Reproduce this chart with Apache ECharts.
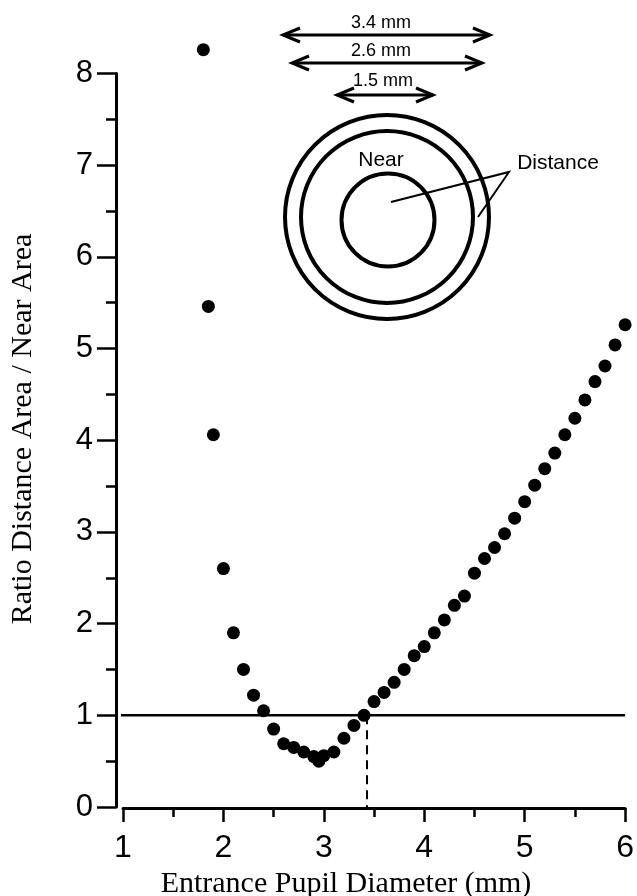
<!DOCTYPE html>
<html>
<head>
<meta charset="utf-8">
<title>Ratio Distance Area / Near Area</title>
<script src="https://cdn.jsdelivr.net/npm/echarts@6/dist/echarts.min.js"></script>
<style>
  html, body { margin: 0; padding: 0; background: #fff; }
  #chart { width: 637px; height: 896px; }
</style>
</head>
<body>
<div id="chart"></div>
<script>
// Entrance pupil diameter (mm) and the matching distance/near area ratio
const pupilDiameter = [
  1.8, 1.85, 1.9, 2.0, 2.1, 2.2, 2.3, 2.4, 2.5, 2.6, 2.7, 2.8, 2.9, 2.95, 3.0,
  3.1, 3.2, 3.3, 3.4, 3.5, 3.6, 3.7, 3.8, 3.9, 4.0, 4.1, 4.2, 4.3, 4.4, 4.5,
  4.6, 4.7, 4.8, 4.9, 5.0, 5.1, 5.2, 5.3, 5.4, 5.5, 5.6, 5.7, 5.8, 5.9, 6.0
];
const areaRatio = [
  8.26, 5.46, 4.06, 2.60, 1.90, 1.50, 1.22, 1.05, 0.85, 0.69, 0.65, 0.60, 0.55, 0.50, 0.56,
  0.60, 0.75, 0.89, 1.00, 1.15, 1.25, 1.36, 1.50, 1.65, 1.75, 1.90, 2.04, 2.20, 2.30, 2.55,
  2.71, 2.83, 2.98, 3.15, 3.33, 3.51, 3.69, 3.86, 4.06, 4.24, 4.44, 4.64, 4.81, 5.04, 5.26
];
// Axis ranges and tick spacing
const xTicks = [1, 2, 3, 4, 5, 6];
const yTicks = [0, 1, 2, 3, 4, 5, 6, 7, 8];
// Reference level (ratio = 1) and the diameter where the curve crosses it
const unityRatio = 1;
const crossingDiameter = 3.43;
const refLineStart = 0.93; // left end sits on the offset y axis line

const points = pupilDiameter.map((d, i) => [d, areaRatio[i]]);

const chart = echarts.init(document.getElementById('chart'), null, { renderer: 'canvas' });

const sans = 'Liberation Sans, Arial, Helvetica, sans-serif';
const serif = 'Liberation Serif, Times New Roman, serif';
const ink = '#000';

// Inset sketch: lens zones and their diameters
const cx = 387, cy = 217;
function arrow(x1, x2, y, head, spread) {
  return [
    { type: 'line', shape: { x1: x1, y1: y, x2: x2, y2: y }, style: { stroke: ink, lineWidth: 3 } },
    { type: 'polyline', shape: { points: [[x1 + head, y - spread], [x1, y], [x1 + head, y + spread]] }, style: { stroke: ink, lineWidth: 3, fill: null } },
    { type: 'polyline', shape: { points: [[x2 - head, y - spread], [x2, y], [x2 - head, y + spread]] }, style: { stroke: ink, lineWidth: 3, fill: null } }
  ];
}
const sketch = [].concat(
  [
    { type: 'circle', shape: { cx: cx, cy: cy, r: 102 }, style: { stroke: ink, fill: null, lineWidth: 4 } },
    { type: 'circle', shape: { cx: cx, cy: cy, r: 86 }, style: { stroke: ink, fill: null, lineWidth: 4 } },
    { type: 'circle', shape: { cx: 388, cy: 220, r: 46.5 }, style: { stroke: ink, fill: null, lineWidth: 4 } },
    { type: 'text', x: 381, y: 23, style: { text: '3.4 mm', font: '18px ' + sans, fill: ink, align: 'center', verticalAlign: 'middle' } },
    { type: 'text', x: 381, y: 51, style: { text: '2.6 mm', font: '18px ' + sans, fill: ink, align: 'center', verticalAlign: 'middle' } },
    { type: 'text', x: 383, y: 81, style: { text: '1.5 mm', font: '18px ' + sans, fill: ink, align: 'center', verticalAlign: 'middle' } },
    { type: 'text', x: 381, y: 160, style: { text: 'Near', font: '21px ' + sans, fill: ink, align: 'center', verticalAlign: 'middle' } },
    { type: 'text', x: 558, y: 163, style: { text: 'Distance', font: '21px ' + sans, fill: ink, align: 'center', verticalAlign: 'middle' } },
    { type: 'polyline', shape: { points: [[391, 202], [509, 172], [478, 217]] }, style: { stroke: ink, lineWidth: 2, fill: null } }
  ],
  arrow(283, 490, 35, 17, 7),
  arrow(292, 482, 63, 17, 7),
  arrow(337, 433, 95, 17, 7)
);

const option = {
  backgroundColor: '#fff',
  animation: false,
  grid: { left: 123, right: 8, top: 73.5, bottom: 89, containLabel: false },
  xAxis: {
    type: 'value',
    min: xTicks[0],
    max: xTicks[xTicks.length - 1],
    interval: 1,
    offset: 1,
    axisLine: { show: true, onZero: false, lineStyle: { color: ink, width: 3 } },
    axisTick: { show: true, inside: false, length: 14, lineStyle: { color: ink, width: 2.5 } },
    minorTick: { show: true, splitNumber: 2, length: 9, lineStyle: { color: ink, width: 2.5 } },
    axisLabel: { color: ink, fontSize: 32, fontFamily: sans, margin: 24 },
    splitLine: { show: false }
  },
  yAxis: {
    type: 'value',
    min: yTicks[0],
    max: yTicks[yTicks.length - 1],
    interval: 1,
    offset: 7,
    axisLine: { show: true, onZero: false, lineStyle: { color: ink, width: 3 } },
    axisTick: { show: true, inside: false, length: 19, lineStyle: { color: ink, width: 2.5 } },
    minorTick: { show: true, splitNumber: 2, length: 10, lineStyle: { color: ink, width: 2.5 } },
    axisLabel: { color: ink, fontSize: 31, fontFamily: sans, margin: 23 },
    splitLine: { show: false }
  },
  graphic: sketch.concat([
    { type: 'text', x: 346, y: 884, style: { text: 'Entrance Pupil Diameter (mm)', font: '30px ' + serif, fill: ink, align: 'center', verticalAlign: 'middle' } },
    { type: 'text', x: 23, y: 429, rotation: Math.PI / 2, style: { text: 'Ratio Distance Area / Near Area', font: '30px ' + serif, fill: ink, align: 'center', verticalAlign: 'middle' } }
  ]),
  series: [
    {
      name: 'unity',
      type: 'line',
      data: [[refLineStart, unityRatio], [xTicks[xTicks.length - 1], unityRatio]],
      symbol: 'none',
      clip: false,
      lineStyle: { color: ink, width: 2.5 },
      z: 1
    },
    {
      name: 'crossing',
      type: 'line',
      data: [[crossingDiameter, unityRatio], [crossingDiameter, yTicks[0]]],
      symbol: 'none',
      clip: false,
      lineStyle: { color: ink, width: 2, type: [9, 6] },
      z: 1
    },
    {
      name: 'ratio',
      type: 'scatter',
      data: points,
      symbol: 'circle',
      symbolSize: 13,
      clip: false,
      itemStyle: { color: ink, opacity: 1 },
      z: 3
    }
  ]
};

chart.setOption(option);
</script>
</body>
</html>
